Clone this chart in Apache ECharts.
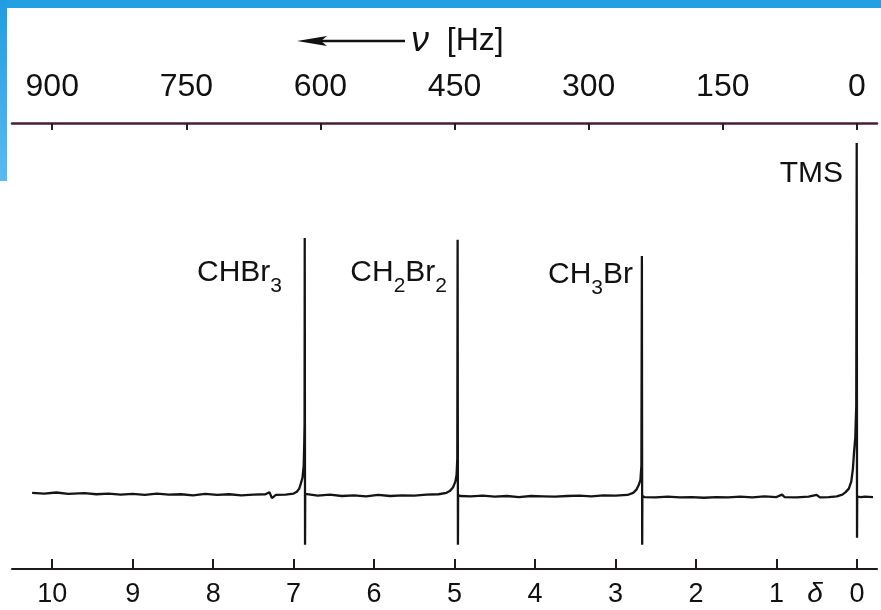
<!DOCTYPE html>
<html>
<head>
<meta charset="utf-8">
<script src="https://cdn.jsdelivr.net/npm/echarts@6/dist/echarts.min.js"></script>
<style>
html, body { margin: 0; padding: 0; background: #fff; }
#chart { width: 881px; height: 610px; }
</style>
</head>
<body>
<div id="chart"></div>
<script>
// tick labels
var deltaTicks = [0, 1, 2, 3, 4, 5, 6, 7, 8, 9, 10];
var hzTicks = [0, 150, 300, 450, 600, 750, 900];

// peaks (delta in ppm, height with TMS = 100)
var peakNames = ['CHBr3', 'CH2Br2', 'CH3Br', 'TMS'];
var peakShifts = [6.86, 4.96, 2.67, 0];
var peakHeights = [72.9, 72.4, 67.8, 100];

var trace = [
	[10.25, 0.3], [10.1, 0.1], [9.95, 0.4], [9.8, 0.0], [9.6, 0.2], [9.45, -0.1],
	[9.3, 0.1], [9.15, -0.2], [9.0, 0.0], [8.85, -0.3], [8.7, 0.1], [8.55, -0.2],
	[8.4, -0.1], [8.25, -0.4], [8.1, 0.0], [7.95, -0.3], [7.8, -0.1], [7.65, -0.4],
	[7.5, -0.2], [7.35, -0.1], [7.3, 0.5], [7.27, -1.2], [7.22, -0.3], [7.1, -0.2],
	[7.0, 0.1], [6.96, 0.6], [6.93, 1.5], [6.91, 3.0], [6.89, 4.6], [6.875, 8.0],
	[6.868, 14.5], [6.864, 20.0], [6.862, 72.9], [6.858, -14.5], [6.856, 0.0],
	[6.84, -0.2], [6.7, -0.5], [6.55, -0.2], [6.4, -0.6], [6.25, -0.4], [6.1, -0.7],
	[5.95, -0.3], [5.8, -0.6], [5.65, -0.4], [5.5, -0.5], [5.35, -0.2], [5.2, -0.1],
	[5.1, 0.3], [5.06, 0.8], [5.02, 1.8], [4.99, 3.5], [4.975, 5.4], [4.966, 10.0],
	[4.962, 72.4], [4.958, -14.5], [4.956, -0.3],
	[4.93, -0.6], [4.8, -0.7], [4.65, -0.5], [4.5, -0.8], [4.35, -0.6], [4.2, -0.9],
	[4.05, -0.6], [3.9, -0.7], [3.75, -0.8], [3.6, -0.6], [3.45, -0.5], [3.3, -0.7],
	[3.15, -0.4], [3.0, -0.5], [2.85, -0.3], [2.78, 0.3], [2.74, 1.2], [2.71, 2.6],
	[2.69, 4.0], [2.678, 8.0], [2.672, 67.8], [2.668, -14.5], [2.666, -0.6],
	[2.64, -0.9], [2.5, -1.0], [2.35, -0.8], [2.2, -1.0], [2.05, -0.9], [1.9, -1.1],
	[1.75, -0.9], [1.6, -1.0], [1.45, -0.8], [1.3, -1.0], [1.15, -0.7], [1.0, -0.9],
	[0.93, -0.2], [0.9, -0.9], [0.75, -1.0], [0.6, -0.8], [0.5, -0.3], [0.46, -1.0],
	[0.35, -0.9], [0.25, -0.7], [0.18, -0.2], [0.14, 0.5], [0.10, 1.5], [0.07, 3.5],
	[0.05, 7.0], [0.035, 12.0], [0.02, 16.0], [0.008, 25.0], [0.002, 100],
	[-0.002, -12.5], [-0.004, -0.8], [-0.05, -0.9], [-0.1, -0.8], [-0.2, -0.9]
];

var font = 'Liberation Sans';
var myChart = echarts.init(document.getElementById('chart'));

function peakLabel(name) {
	// CH2Br2 -> CH{s|2}Br{s|2}
	return name.replace(/([A-Za-z]+)/g, '{n|$1}').replace(/(\d)/g, '{s|$1}');
}
var labelRich = {
	n: { fontSize: 30, fontFamily: font, lineHeight: 48, fill: '#111' },
	s: { fontSize: 21, fontFamily: font, lineHeight: 24, verticalAlign: 'bottom', fill: '#111' }
};
// label box corners (right edge, top)
var labelPos = [[282, 249], [447, 249], [633, 251], [843, 150]];

var graphics = [
	{ type: 'rect', shape: { x: 0, y: 0, width: 881, height: 8 }, style: { fill: '#22a1e2' } },
	{ type: 'rect', shape: { x: 0, y: 0, width: 7, height: 181 },
		style: { fill: new echarts.graphic.LinearGradient(0, 0, 0, 1, [
			{ offset: 0, color: '#1f9de0' }, { offset: 1, color: '#5abaf1' }]) } },
	{ type: 'line', shape: { x1: 318, y1: 41, x2: 405, y2: 41 }, style: { stroke: '#111', lineWidth: 2.5 } },
	{ type: 'polygon', shape: { points: [[297, 41], [327, 36], [321, 41], [327, 46]] }, style: { fill: '#111' } },
	{ type: 'text', x: 411, y: 41, style: {
		text: '{i|ν}  [Hz]', verticalAlign: 'middle', fontSize: 32, fontFamily: font, fill: '#111',
		rich: { i: { fontSize: 36, fontFamily: font, fontStyle: 'italic', fill: '#111' } } } },
	{ type: 'text', x: 815, y: 594, style: {
		text: 'δ', align: 'center', verticalAlign: 'middle', fontSize: 28, fontStyle: 'italic',
		fontFamily: font, fill: '#111' } }
];
peakNames.forEach(function (name, i) {
	graphics.push({ type: 'text', x: labelPos[i][0], y: labelPos[i][1], style: {
		text: peakLabel(name), align: 'right', verticalAlign: 'top', rich: labelRich } });
});

var option = {
	animation: false,
	backgroundColor: '#fff',
	grid: { left: 12, right: 4, top: 123, bottom: 41, outerBoundsMode: 'none', containLabel: false },
	xAxis: [{
		type: 'value',
		position: 'bottom',
		inverse: true,
		min: -0.25,
		max: 10.5,
		splitLine: { show: false },
		axisLine: { onZero: false, lineStyle: { color: '#1e1a1c', width: 2.2 } },
		axisTick: { inside: true, length: 10, customValues: deltaTicks, lineStyle: { color: '#1e1a1c', width: 2 } },
		axisLabel: { customValues: deltaTicks, fontSize: 27, fontFamily: font, color: '#111', margin: 12 }
	}, {
		type: 'value',
		position: 'top',
		inverse: true,
		min: -22.5,
		max: 945,
		splitLine: { show: false },
		axisLine: { onZero: false, lineStyle: { color: '#4b1d38', width: 2.5 } },
		axisTick: { inside: true, length: 7, customValues: hzTicks, lineStyle: { color: '#2a1a24', width: 2 } },
		axisLabel: { customValues: hzTicks, fontSize: 32, fontFamily: font, color: '#111', margin: 20 }
	}],
	yAxis: {
		type: 'value',
		min: -21.4,
		max: 105.7,
		show: false
	},
	series: [{
		type: 'line',
		xAxisIndex: 0,
		data: trace,
		showSymbol: false,
		lineStyle: { color: '#141414', width: 2.3 }
	}],
	graphic: graphics
};
myChart.setOption(option);
</script>
</body>
</html>
